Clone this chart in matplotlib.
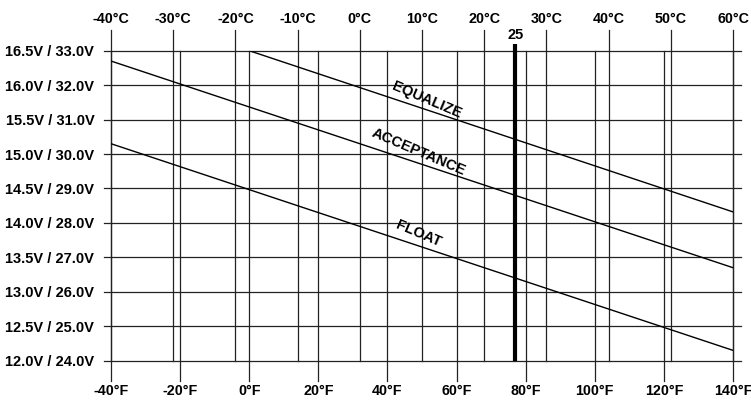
import matplotlib
matplotlib.use("Agg")
import matplotlib.pyplot as plt
import numpy as np

# ---- data ----
temp_f_ticks = [-40, -20, 0, 20, 40, 60, 80, 100, 120, 140]
temp_c_ticks = [-40, -30, -20, -10, 0, 10, 20, 30, 40, 50, 60]
volt_ticks = [12.0, 12.5, 13.0, 13.5, 14.0, 14.5, 15.0, 15.5, 16.0, 16.5]
volt_labels = ["12.0V / 24.0V", "12.5V / 25.0V", "13.0V / 26.0V", "13.5V / 27.0V",
               "14.0V / 28.0V", "14.5V / 29.0V", "15.0V / 30.0V", "15.5V / 31.0V",
               "16.0V / 32.0V", "16.5V / 33.0V"]

equalize_f = [0, 140]
equalize_v = [16.5, 14.16]
acceptance_f = [-40, 140]
acceptance_v = [16.35, 13.35]
float_f = [-40, 140]
float_v = [15.15, 12.15]

ref_c = 25  # reference temperature marker

def c_to_f(c):
    return np.asarray(c) * 9.0 / 5.0 + 32.0

def f_to_c(f):
    return (np.asarray(f) - 32.0) * 5.0 / 9.0

plt.rcParams['font.family'] = ['Liberation Sans', 'DejaVu Sans']

W, H = 751, 403
fig = plt.figure(figsize=(W / 100, H / 100), dpi=100)
left, right = 111 / W, 733 / W
top, bottom = 1 - 50.7 / H, 1 - 360.7 / H
ax = fig.add_axes([left, bottom, right - left, top - bottom])
ax.set_xlim(-40, 140)
ax.set_ylim(12.0, 16.5)
for s in ax.spines.values():
    s.set_visible(False)

gc = '#222222'
lw = 0.9
# horizontal grid lines
for v in volt_ticks:
    ax.plot([-42, 142.3], [v, v], color=gc, lw=lw, clip_on=False, zorder=1)
# Fahrenheit verticals (from top line down below bottom)
for f in temp_f_ticks:
    ax.plot([f, f], [16.5, 11.71], color=gc, lw=lw, clip_on=False, zorder=1)
# Celsius verticals (from top labels down to bottom line)
for c in temp_c_ticks:
    fx = float(c_to_f(c))
    ax.plot([fx, fx], [16.8, 12.0], color=gc, lw=lw, clip_on=False, zorder=1)

# reference marker
rx = float(c_to_f(ref_c))
ax.plot([rx, rx], [12.0, 16.6], color='black', lw=3.0, clip_on=False, zorder=3, solid_capstyle='butt')
ax.text(rx, 16.63, str(ref_c), ha='center', va='bottom', fontsize=10.5, weight='bold', clip_on=False)

# charging curves
for xs, ys in [(equalize_f, equalize_v), (acceptance_f, acceptance_v), (float_f, float_v)]:
    ax.plot(xs, ys, color='black', lw=1.0, zorder=2)

lab_kw = dict(ha='center', va='center', fontsize=10.5, weight='bold', rotation=-23,
              rotation_mode='anchor')
ax.text(51.4, 15.78, "EQUALIZE", **lab_kw)
ax.text(49.1, 15.03, "ACCEPTANCE", **lab_kw)
ax.text(49.0, 13.85, "FLOAT", **lab_kw)

# tick labels
ax.set_xticks(temp_f_ticks)
ax.set_xticklabels([f"{t}°F" for t in temp_f_ticks], fontsize=10.3, weight='bold')
ax.set_yticks(volt_ticks)
ax.set_yticklabels(volt_labels, fontsize=10.5, weight='bold')
ax.tick_params(axis='x', length=0, pad=17)
ax.tick_params(axis='y', length=0, pad=12)

sec = ax.secondary_xaxis('top', functions=(f_to_c, c_to_f))
sec.set_xticks(temp_c_ticks)
sec.set_xticklabels([f"{t}°C" for t in temp_c_ticks], fontsize=10.3, weight='bold')
sec.tick_params(axis='x', length=0, pad=18)
for s in sec.spines.values():
    s.set_visible(False)

fig.savefig("out.png", dpi=100)
